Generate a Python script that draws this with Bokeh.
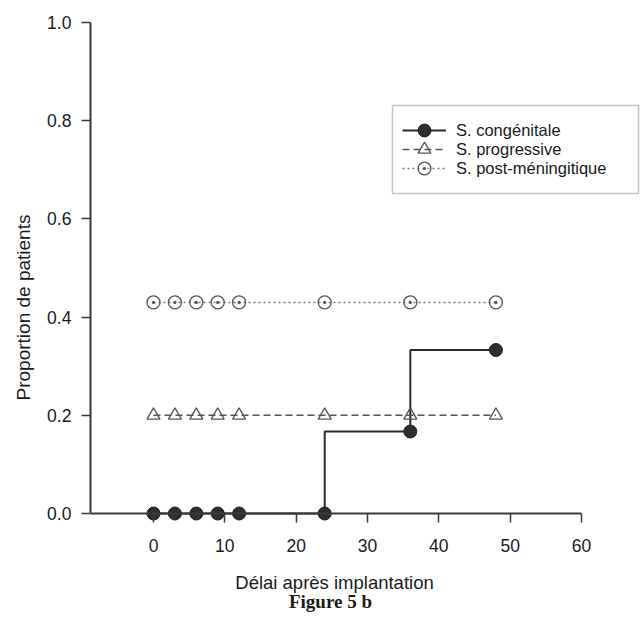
from bokeh.plotting import figure
from bokeh.models import (Range1d, FixedTicker, Legend, LegendItem, Label,
                          NumeralTickFormatter, BoxAnnotation)
from bokeh.embed import file_html
from bokeh.resources import INLINE
import math

# ---- data ----
months = [0, 3, 6, 9, 12, 24, 36, 48]
congenitale = [0.0, 0.0, 0.0, 0.0, 0.0, 0.0, 0.167, 0.333]
progressive = [0.2, 0.2, 0.2, 0.2, 0.2, 0.2, 0.2, 0.2]
post_meningitique = [0.43, 0.43, 0.43, 0.43, 0.43, 0.43, 0.43, 0.43]
series_labels = ["S. congénitale", "S. progressive", "S. post-méningitique"]
x_ticks = [0, 10, 20, 30, 40, 50, 60]
y_ticks = [0.0, 0.2, 0.4, 0.6, 0.8, 1.0]
x_title = "Délai après implantation"
y_title = "Proportion de patients"
caption = "Figure 5 b"

FONT = "Liberation Sans"
AX = "#3a3a3a"
X0 = -8.84  # where the y axis sits
H = 618

p = figure(width=643, height=H, output_backend="svg", toolbar_location=None,
           x_range=Range1d(-21.45, 68.69), y_range=Range1d(-0.2138, 1.0448),
           min_border=0)
p.grid.visible = False
p.outline_line_color = None
p.background_fill_color = "white"
p.border_fill_color = "white"

# axes
p.xaxis.fixed_location = 0
p.yaxis.fixed_location = X0
p.xaxis.bounds = (X0, 60)
p.yaxis.bounds = (0, 1)
p.xaxis.ticker = FixedTicker(ticks=x_ticks)
p.yaxis.ticker = FixedTicker(ticks=y_ticks)
p.yaxis.formatter = NumeralTickFormatter(format="0.0")
for ax in (p.xaxis, p.yaxis):
    ax.axis_line_color = AX
    ax.axis_line_width = 2
    ax.major_tick_line_color = AX
    ax.major_tick_line_width = 1.5
    ax.major_tick_in = 0
    ax.major_tick_out = 9
    ax.minor_tick_line_color = None
    ax.major_label_text_font = FONT
    ax.major_label_text_font_size = "17.5px"
    ax.major_label_text_color = "#1a1a1a"
p.xaxis.major_label_standoff = 16
p.yaxis.major_label_standoff = 10

# series
r1l = p.step(months, congenitale, mode="before", line_color="#2b2b2b", line_width=2)
r1m = p.scatter(months, congenitale, marker="circle", size=13,
                fill_color="#2e2e2e", line_color="#1e1e1e", line_width=1)

r2l = p.line(months, progressive, line_color="#555555", line_width=1.5,
             line_dash="7 4")
r2m = p.scatter(months, progressive, marker="triangle", size=13,
                fill_alpha=0, line_color="#555555", line_width=1.3)

r3l = p.line(months, post_meningitique, line_color="#7a7a7a", line_width=1.5,
             line_dash="2 3")
r3m = p.scatter(months, post_meningitique, marker="circle_dot", size=13,
                fill_alpha=0, line_color="#555555", line_width=1.3)

# legend frame (screen px, canvas top-down converted to bottom-up)
box_l, box_r, box_t, box_b = 392, 638, 105, 193
p.add_layout(BoxAnnotation(left=box_l, right=box_r, top=H - box_t, bottom=H - box_b,
                           left_units="screen", right_units="screen",
                           top_units="screen", bottom_units="screen",
                           fill_color="white", fill_alpha=1,
                           line_color="#3a3a3a", line_width=1.5,
                           level="annotation"))

# one legend per row so that the rows sit as tightly as in the reference
row_y = [130, 149, 168]
GH = 32
for lbl, rends, ry in zip(series_labels, [[r1l, r1m], [r2l, r2m], [r3l, r3m]], row_y):
    lg = Legend(items=[LegendItem(label=lbl, renderers=rends)],
                location=(402, H - ry - GH // 2))
    lg.label_text_font = FONT
    lg.label_text_font_size = "16.5px"
    lg.label_text_color = "#1a1a1a"
    lg.label_height = 18
    lg.glyph_height = GH
    lg.glyph_width = 44
    lg.label_standoff = 10
    lg.spacing = 0
    lg.padding = 0
    lg.margin = 0
    lg.border_line_color = None
    lg.background_fill_alpha = 0
    p.add_layout(lg)

# titles
p.add_layout(Label(x=23, y=311, x_units="screen", y_units="screen",
                   text=y_title, angle=math.pi / 2, text_align="center",
                   text_baseline="middle", text_font=FONT,
                   text_font_size="19px", text_color="#1a1a1a"))
p.add_layout(Label(x=334, y=36, x_units="screen", y_units="screen",
                   text=x_title, text_align="center", text_baseline="middle",
                   text_font=FONT, text_font_size="18.5px",
                   text_color="#1a1a1a"))
p.add_layout(Label(x=330, y=17, x_units="screen", y_units="screen",
                   text=caption, text_align="center", text_baseline="middle",
                   text_font="Liberation Serif", text_font_style="bold",
                   text_font_size="19px", text_color="#1a1a1a"))

open("out.html", "w").write(file_html(p, INLINE))
